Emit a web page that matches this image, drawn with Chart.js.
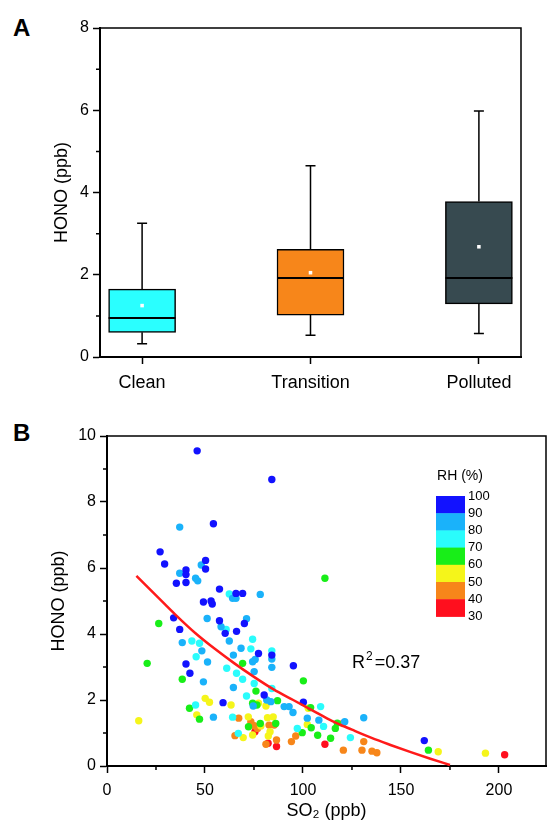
<!DOCTYPE html>
<html>
<head>
<meta charset="utf-8">
<script src="https://cdn.jsdelivr.net/npm/chart.js@4/dist/chart.umd.min.js"></script>
<style>
  html, body { margin: 0; padding: 0; background: #fff; }
  body { width: 550px; height: 826px; position: relative; overflow: hidden; font-family: "Liberation Sans", Arial, sans-serif; }
  .tag { position: absolute; font-weight: bold; font-size: 24px; color: #000; line-height: 1; }
  #wrapA { position: absolute; left: 0; top: 0; width: 550px; height: 395px; }
  #wrapB { position: absolute; left: 0; top: 400px; width: 550px; height: 426px; }
</style>
</head>
<body>
<div class="tag" style="left:13px; top:16px;">A</div>
<div class="tag" style="left:13px; top:421px;">B</div>
<div id="wrapA"><canvas id="chartA"></canvas></div>
<div id="wrapB"><canvas id="chartB"></canvas></div>
<script>
/* === PANEL A: box plot === */
const groups = ["Clean", "Transition", "Polluted"];
const whiskerLow = [0.32, 0.53, 0.57];
const q1 = [0.6, 1.02, 1.29];
const median = [0.95, 1.92, 1.92];
const q3 = [1.65, 2.62, 3.78];
const whiskerHigh = [3.25, 4.65, 5.98];
const means = [1.25, 2.05, 2.68];
const boxColors = ["#2AFFFF", "#F7861A", "#374A50"];
const honoTicksA = [0, 2, 4, 6, 8];
const minorTicksA = [1, 3, 5, 7];

/* === PANEL B: HONO vs SO2 coloured by RH === */
const rh90to100 = [[46.0,9.55],[84.1,8.68],[54.3,7.34],[27.1,6.49],[29.4,6.12],[50.3,6.23],[50.3,5.97],[40.3,5.94],[40.3,5.80],[35.4,5.54],[40.3,5.56],[57.4,5.36],[65.8,5.23],[69.2,5.23],[49.2,4.97],[53.1,5.0],[53.7,4.91],[34.0,4.49],[57.4,4.40],[70.1,4.32],[37.1,4.14],[60.3,4.02],[66.1,4.08],[77.3,3.41],[84.1,3.36],[40.3,3.09],[42.3,2.81],[80.2,2.15],[59.2,1.92],[95.1,3.04],[100.2,1.93],[161.9,0.77]];
const rh80to90 = [[37.1,7.24],[48.1,6.09],[37.1,5.84],[45.2,5.69],[46.3,5.61],[78.2,5.20],[64.1,5.08],[65.8,5.08],[51.1,4.47],[58.2,4.22],[71.2,4.46],[38.4,3.74],[48.4,3.49],[51.3,3.15],[62.4,3.79],[68.4,3.57],[64.5,3.36],[84.1,3.24],[74.3,3.16],[75.6,3.23],[75.1,2.86],[84.1,2.99],[49.2,2.55],[64.5,2.38],[81.5,2.0],[83.6,1.95],[74.6,1.82],[54.3,1.48],[90.4,1.80],[92.9,1.80],[94.9,1.62],[102.2,1.45],[108.1,1.39],[121.3,1.34],[131.0,1.46]];
const rh70to80 = [[62.4,5.21],[60.8,4.14],[43.3,3.79],[47.2,3.72],[45.5,3.31],[74.3,3.84],[73.4,3.55],[84.1,3.49],[66.1,2.81],[61.1,2.96],[69.2,2.63],[75.1,2.5],[71.2,2.12],[84.1,2.35],[45.2,1.85],[64.1,1.48],[67.0,0.99],[97.1,1.14],[109.0,1.80],[110.5,1.2],[124.2,0.86]];
const rh60to70 = [[111.2,5.69],[26.4,4.32],[20.5,3.11],[69.2,3.11],[38.4,2.63],[100.2,2.58],[76.0,2.27],[87.0,1.98],[42.1,1.75],[74.3,1.90],[76.5,1.85],[47.2,1.42],[72.2,1.19],[78.2,1.29],[86.1,1.29],[103.9,1.77],[104.2,1.16],[107.5,0.93],[99.6,1.01],[114.1,0.84],[116.5,1.14],[117.5,1.30],[164.0,0.48]];
const rh50to60 = [[16.2,1.37],[50.1,2.05],[52.3,1.93],[63.3,1.85],[77.3,1.90],[81.1,1.82],[45.8,1.55],[72.1,1.49],[78.5,1.21],[81.9,1.46],[84.8,1.49],[69.5,0.86],[74.3,0.94],[82.3,0.91],[83.2,1.04],[102.7,1.75],[102.2,1.26],[169.0,0.43],[193.1,0.39]];
const rh40to50 = [[67.2,1.45],[73.4,1.34],[75.1,1.22],[76.8,1.14],[82.7,1.24],[85.3,1.24],[65.3,0.92],[81.1,0.66],[86.5,0.79],[96.3,0.91],[94.1,0.74],[120.3,1.29],[120.6,0.48],[131.0,0.74],[130.1,0.48],[135.2,0.45],[137.7,0.40]];
const rh30to40 = [[75.5,1.04],[82.2,0.69],[86.5,0.59],[111.2,0.66],[202.9,0.34]];
const rhLevels = [100, 90, 80, 70, 60, 50, 40, 30];
const rhColors = ["#1212FF", "#1AB2FA", "#2AFCFC", "#18EE18", "#F5F51A", "#F7861A", "#FF0F1E"];
const fitSO2 = [15, 25, 35, 45, 55, 65, 75, 85, 95, 105, 115, 125, 135, 145, 155, 165, 175];
const fitHONO = [5.76, 5.17, 4.58, 4.03, 3.55, 3.11, 2.70, 2.32, 2.0, 1.68, 1.36, 1.10, 0.85, 0.63, 0.42, 0.22, 0.03];
const so2Ticks = [0, 50, 100, 150, 200];
const so2Minor = [25, 75, 125, 175];
const honoTicksB = [0, 2, 4, 6, 8, 10];
const honoMinorB = [1, 3, 5, 7, 9];
const r2Text = "0.37";

const FONT = "'Liberation Sans', Arial, sans-serif";
Chart.defaults.font.family = FONT;
Chart.defaults.color = "#000";

/* === SHARED HELPERS === */
const frame = {
  id: "frame",
  afterDraw(chart, args, opts) {
    const { ctx, chartArea: a, scales } = chart;
    ctx.save();
    ctx.strokeStyle = "#000";
    ctx.lineWidth = 1.5;
    ctx.beginPath();
    ctx.moveTo(a.left, a.top);
    ctx.lineTo(a.right, a.top);
    ctx.lineTo(a.right, a.bottom);
    (opts.yMinor || []).forEach(v => {
      const y = scales.y.getPixelForValue(v);
      ctx.moveTo(a.left, y);
      ctx.lineTo(a.left - 4, y);
    });
    (opts.xMinor || []).forEach(v => {
      const x = scales.x.getPixelForValue(v);
      ctx.moveTo(x, a.bottom);
      ctx.lineTo(x, a.bottom + 4);
    });
    ctx.stroke();
    ctx.restore();
  }
};

function axisGrid() {
  return { drawOnChartArea: false, drawTicks: true, tickLength: 7, tickColor: "#000", tickWidth: 1.5 };
}

/* === PANEL A === */
const boxParts = {
  id: "boxParts",
  afterDatasetsDraw(chart) {
    const { ctx, scales: { x, y } } = chart;
    const bars = chart.getDatasetMeta(0).data;
    ctx.save();
    ctx.strokeStyle = "#000";
    ctx.lineWidth = 1.5;
    groups.forEach((g, i) => {
      const cx = x.getPixelForValue(i);
      const half = bars[i].width / 2;
      ctx.beginPath();
      ctx.moveTo(cx, y.getPixelForValue(q3[i]));
      ctx.lineTo(cx, y.getPixelForValue(whiskerHigh[i]));
      ctx.moveTo(cx - 5, y.getPixelForValue(whiskerHigh[i]));
      ctx.lineTo(cx + 5, y.getPixelForValue(whiskerHigh[i]));
      ctx.moveTo(cx, y.getPixelForValue(q1[i]));
      ctx.lineTo(cx, y.getPixelForValue(whiskerLow[i]));
      ctx.moveTo(cx - 5, y.getPixelForValue(whiskerLow[i]));
      ctx.lineTo(cx + 5, y.getPixelForValue(whiskerLow[i]));
      ctx.stroke();
      ctx.lineWidth = 2;
      ctx.beginPath();
      ctx.moveTo(cx - half, y.getPixelForValue(median[i]));
      ctx.lineTo(cx + half, y.getPixelForValue(median[i]));
      ctx.stroke();
      ctx.lineWidth = 1.5;
    });
    ctx.restore();
  }
};

new Chart(document.getElementById("chartA"), {
  type: "bar",
  data: {
    datasets: [{
      type: "bar",
      data: groups.map((g, i) => ({ x: i, y: [q1[i], q3[i]] })),
      backgroundColor: boxColors,
      borderColor: "#000",
      borderWidth: 1.5,
      borderSkipped: false,
      barThickness: 67,
      order: 2
    }, {
      type: "line",
      showLine: false,
      data: groups.map((g, i) => ({ x: i, y: means[i] })),
      pointStyle: "rect",
      pointRadius: 2.5,
      pointBackgroundColor: "#fff",
      pointBorderWidth: 0,
      order: 1
    }]
  },
  options: {
    responsive: true,
    maintainAspectRatio: false,
    animation: false,
    layout: { padding: { left: 47, top: 28, right: 29, bottom: 0 } },
    plugins: { legend: { display: false }, tooltip: { enabled: false }, frame: { yMinor: minorTicksA } },
    scales: {
      x: {
        type: "linear", min: -0.25, max: 2.25, offset: false,
        afterBuildTicks: s => { s.ticks = groups.map((g, i) => ({ value: i })); },
        afterFit: s => { s.height = 38; },
        grid: { ...axisGrid(), offset: false },
        border: { color: "#000", width: 2 },
        ticks: { callback: v => groups[v], font: { size: 18 }, padding: 8, autoSkip: false, maxRotation: 0 }
      },
      y: {
        min: 0, max: 8,
        afterBuildTicks: s => { s.ticks = honoTicksA.map(v => ({ value: v })); },
        afterFit: s => { s.width = 53; },
        grid: axisGrid(),
        border: { color: "#000", width: 2 },
        ticks: { font: { size: 16 }, padding: 4 },
        title: { display: true, text: "HONO (ppb)", font: { size: 18 } }
      }
    }
  },
  plugins: [frame, boxParts]
});

/* === PANEL B === */
const rhLegend = {
  id: "rhLegend",
  afterDraw(chart) {
    const { ctx, chartArea: a, scales: { x, y } } = chart;
    ctx.save();
    const left = a.left + 329, top = a.top + 60, w = 29, h = 17.2;
    ctx.fillStyle = "#000";
    ctx.font = "14px " + FONT;
    ctx.textAlign = "center";
    ctx.textBaseline = "middle";
    ctx.fillText("RH (%)", left + 24, top - 20);
    rhColors.forEach((c, i) => {
      ctx.fillStyle = c;
      ctx.fillRect(left, top + i * h, w, h + 0.5);
    });
    ctx.fillStyle = "#000";
    ctx.font = "13px " + FONT;
    ctx.textAlign = "left";
    rhLevels.forEach((v, i) => ctx.fillText(String(v), left + w + 3, top + i * h));
    // R^2 annotation
    const tx = x.getPixelForValue(125), ty = y.getPixelForValue(3.12);
    ctx.font = "18px " + FONT;
    ctx.fillText("R", tx, ty);
    const rw = ctx.measureText("R").width;
    ctx.font = "12px " + FONT;
    ctx.fillText("2", tx + rw + 1, ty - 6);
    const sw = ctx.measureText("2").width;
    ctx.font = "18px " + FONT;
    ctx.fillText("=" + r2Text, tx + rw + sw + 3, ty);
    ctx.restore();
  }
};

const rhSets = [rh90to100, rh80to90, rh70to80, rh60to70, rh50to60, rh40to50, rh30to40];

new Chart(document.getElementById("chartB"), {
  type: "scatter",
  data: {
    datasets: [{
      type: "line",
      data: fitSO2.map((v, i) => ({ x: v, y: fitHONO[i] })),
      borderColor: "#FF1A1A",
      borderWidth: 2.5,
      pointRadius: 0,
      cubicInterpolationMode: "monotone",
      fill: false,
      order: 0
    }].concat(rhSets.map((set, i) => ({
      data: set.map(p => ({ x: p[0], y: p[1] })),
      backgroundColor: rhColors[i],
      pointRadius: 3.7,
      pointBorderWidth: 0,
      order: i + 1
    })))
  },
  options: {
    responsive: true,
    maintainAspectRatio: false,
    animation: false,
    layout: { padding: { left: 44, top: 36, right: 2, bottom: 0 } },
    plugins: { legend: { display: false }, tooltip: { enabled: false }, frame: { yMinor: honoMinorB, xMinor: so2Minor } },
    scales: {
      x: {
        type: "linear", min: 0, max: 224,
        afterBuildTicks: s => { s.ticks = so2Ticks.map(v => ({ value: v })); },
        afterFit: s => { s.height = 60; },
        grid: axisGrid(),
        border: { color: "#000", width: 2 },
        ticks: { font: { size: 16 }, padding: 8, autoSkip: false, maxRotation: 0 },
        title: { display: true, text: "SO\u2082 (ppb)", font: { size: 18 }, padding: { top: 0 } }
      },
      y: {
        min: 0, max: 10,
        afterBuildTicks: s => { s.ticks = honoTicksB.map(v => ({ value: v })); },
        afterFit: s => { s.width = 63; },
        grid: axisGrid(),
        border: { color: "#000", width: 2 },
        ticks: { font: { size: 16 }, padding: 4 },
        title: { display: true, text: "HONO (ppb)", font: { size: 18 } }
      }
    }
  },
  plugins: [frame, rhLegend]
});
</script>
</body>
</html>
